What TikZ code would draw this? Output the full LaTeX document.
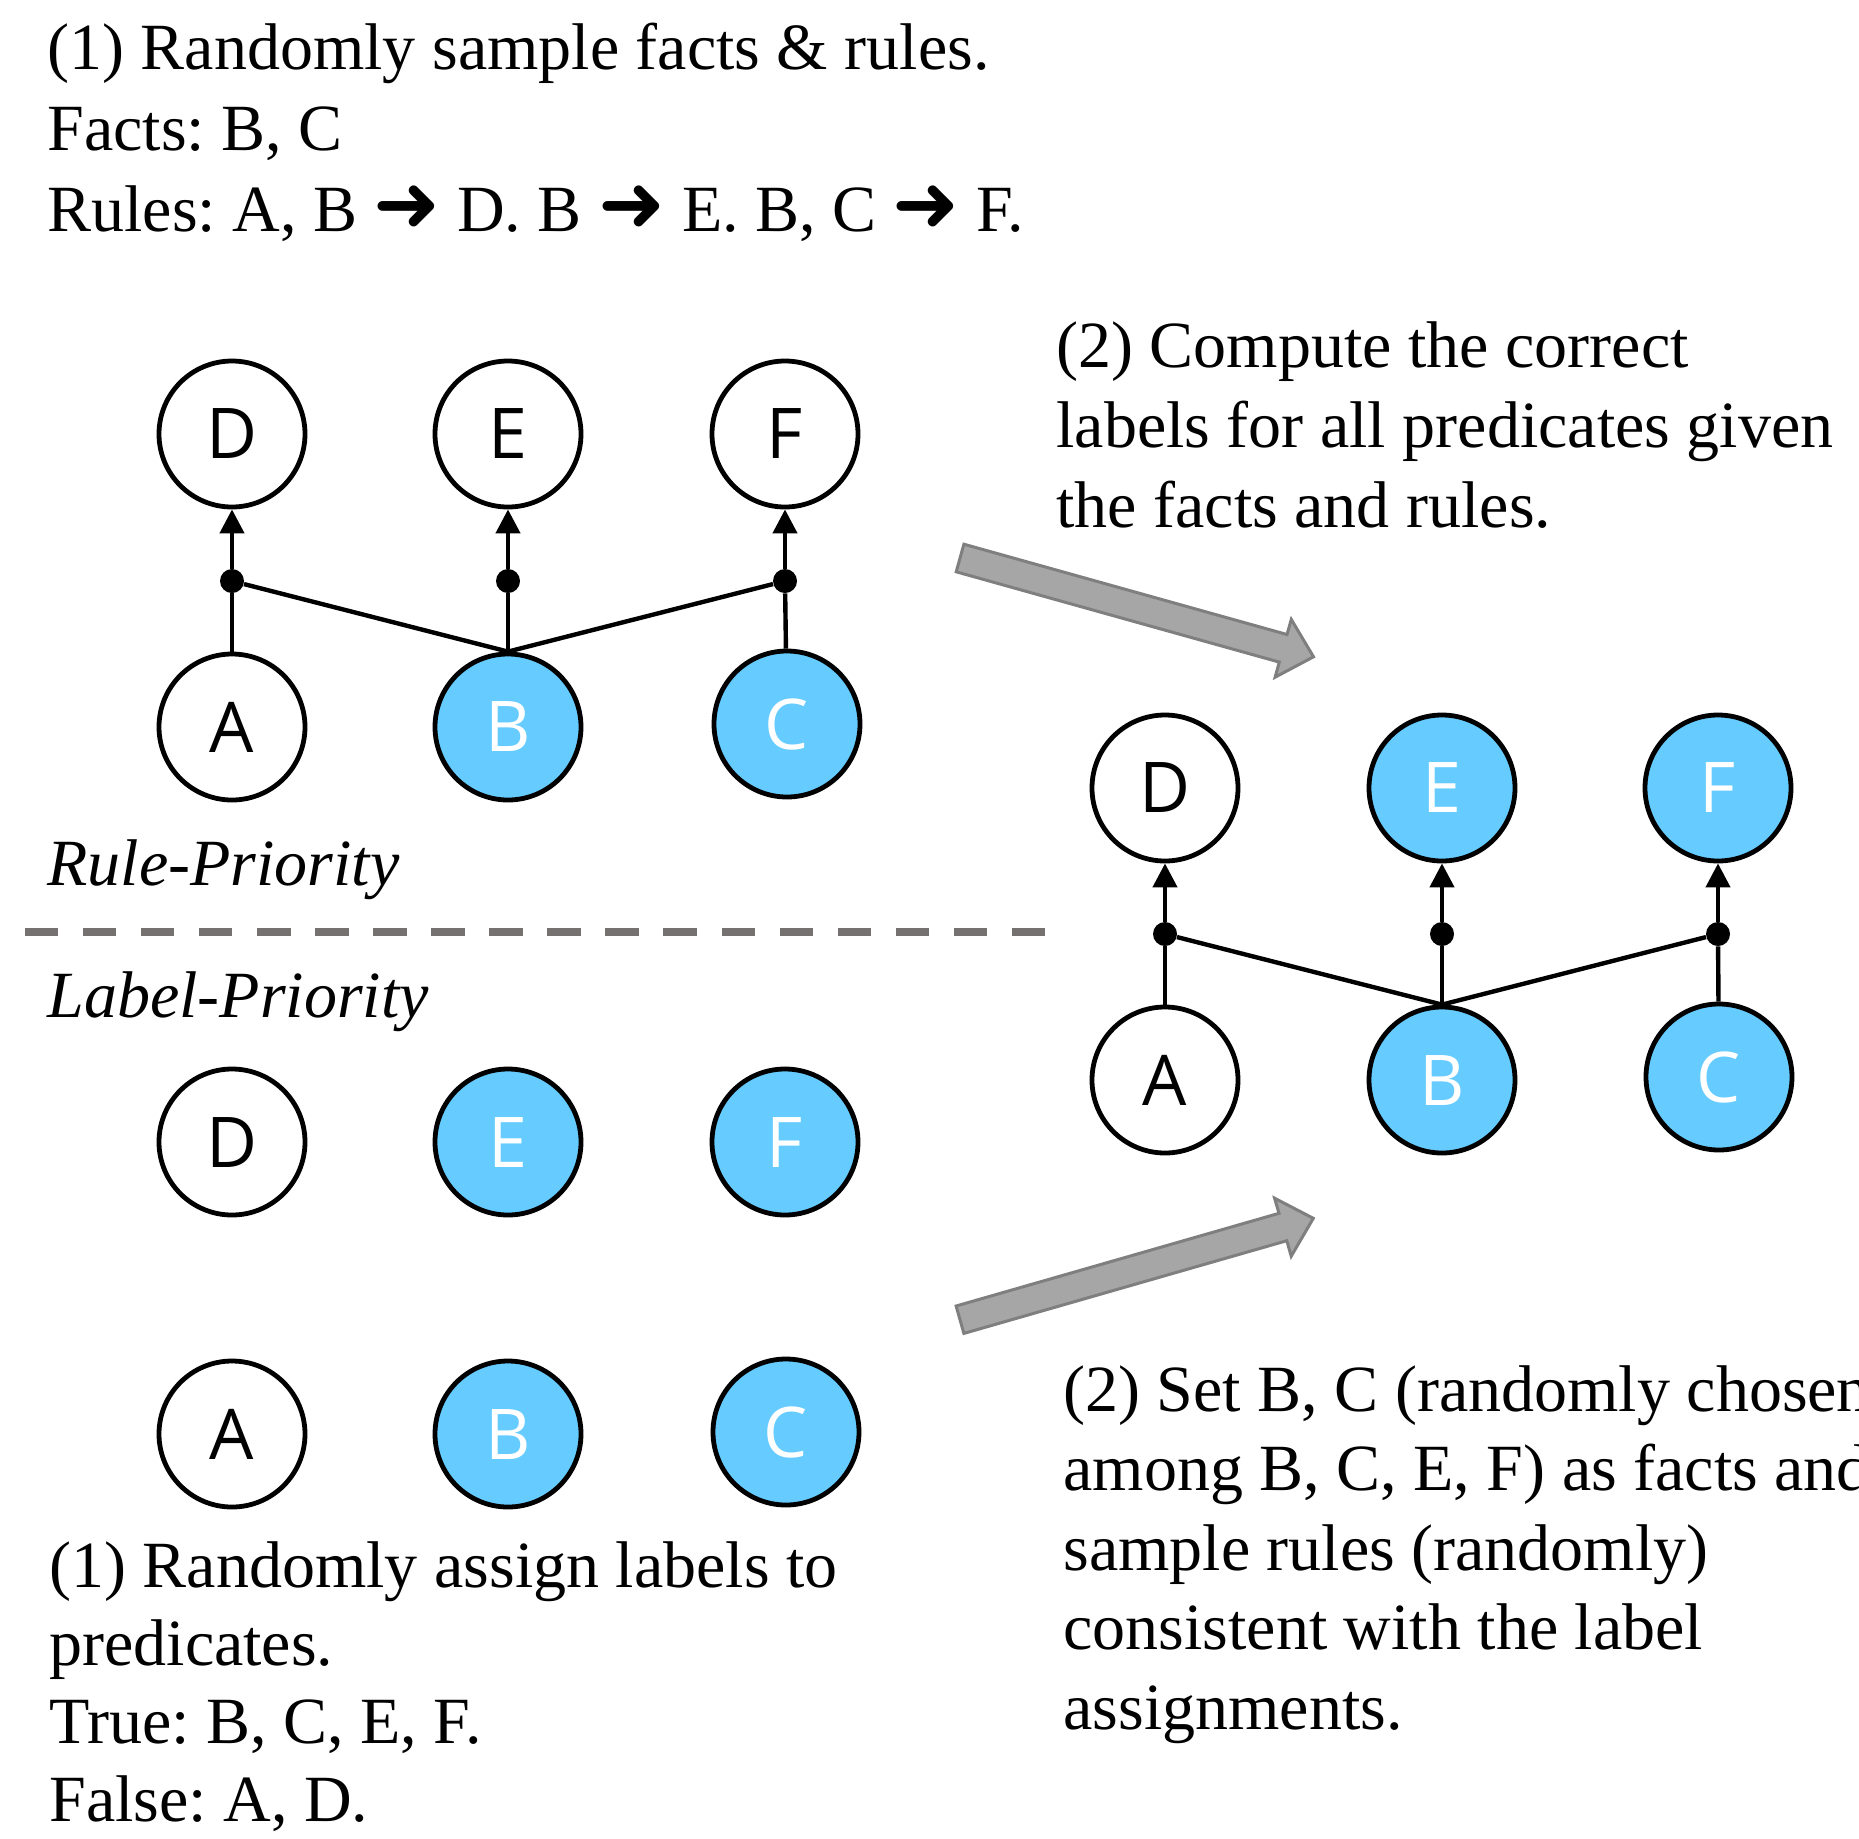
\documentclass[tikz,border=0pt]{standalone}
\usepackage{fontspec}
\setmainfont{Liberation Serif}
\newfontfamily\nodefont{Open Sans}
\newfontfamily\symfont{DejaVu Sans}
\usetikzlibrary{arrows.meta}
\definecolor{factblue}{RGB}{102,204,255}
\definecolor{arrowfill}{RGB}{166,166,166}
\definecolor{arrowedge}{RGB}{127,127,127}
\definecolor{dashgray}{RGB}{118,113,113}
\newcommand{\ruleto}{{\symfont\fontsize{40}{40}\selectfont ➜}}
\frenchspacing
\begin{document}
\begin{tikzpicture}[x=0.5pt,y=-0.5pt,
  pred/.style={circle,draw=black,line width=2.4pt,minimum size=73pt,inner sep=0pt,font=\nodefont\fontsize{35}{35}\selectfont},
  truepred/.style={pred,fill=factblue,text=white},
  falsepred/.style={pred,fill=white,text=black},
  junction/.style={circle,fill=black,inner sep=0pt,minimum size=12pt},
  link/.style={line width=2.2pt,draw=black},
  implies/.style={link,-{Triangle[length=12pt,width=12pt]}},
  body/.style={anchor=base west,align=left,inner sep=0pt},
  heading/.style={anchor=base west,inner sep=0pt,font=\itshape\fontsize{33}{40}\selectfont},
  bigarrow/.style={fill=arrowfill,draw=arrowedge,line width=1.5pt,line join=miter},
  divider/.style={draw=dashgray,line width=4pt,dash pattern=on 16.65pt off 12.37pt}
]
\useasboundingbox (0,0) rectangle (1859,1838);

% ---------- texts (anchored at the baseline of the last line) ----------
\node[body,font=\fontsize{33}{40.5}\selectfont] (t1) at (47,231)
  {(1) Randomly sample facts \& rules.\\Facts: B, C\\Rules: A, B \ruleto{} D. B \ruleto{} E. B, C \ruleto{} F.};
\node[body,font=\fontsize{33}{40}\selectfont] (t2) at (1056,527)
  {(2) Compute the correct\\labels for all predicates given\\the facts and rules.};
\node[heading] (rp) at (47,885) {Rule-Priority};
\node[heading] (lp) at (47,1017) {Label-Priority};
\node[body,font=\fontsize{33}{38.85}\selectfont] (t3) at (49,1821)
  {(1) Randomly assign labels to\\predicates.\\True: B, C, E, F.\\False: A, D.};
\node[body,font=\fontsize{33}{39.75}\selectfont] (t4) at (1063,1729)
  {(2) Set B, C (randomly chosen\\among B, C, E, F) as facts and\\sample rules (randomly)\\consistent with the label\\assignments.};

% ---------- divider ----------
\coordinate (divL) at (-33,932);
\coordinate (divR) at (1046,932);
\draw[divider] (divL) -- (divR);

% ---------- rule-priority graph ----------
\node[falsepred] (rD) at (232,434) {D};
\node[falsepred] (rE) at (508,434) {E};
\node[falsepred] (rF) at (785,434) {F};
\node[falsepred] (rA) at (232,727) {A};
\node[truepred]  (rB) at (508,727) {B};
\node[truepred]  (rC) at (787,724) {C};
\node[junction] (rj1) at (232,581) {};
\node[junction] (rj2) at (508,581) {};
\node[junction] (rj3) at (785,581) {};
\draw[link] (rA) -- (rj1);
\draw[link] (rB.north) -- (rj1);
\draw[link] (rB.north) -- (rj2);
\draw[link] (rB.north) -- (rj3);
\draw[link] (rC) -- (rj3);
\draw[implies] (rj1) -- (rD);
\draw[implies] (rj2) -- (rE);
\draw[implies] (rj3) -- (rF);

% ---------- result graph ----------
\node[falsepred] (sD) at (1165,788) {D};
\node[truepred]  (sE) at (1442,788) {E};
\node[truepred]  (sF) at (1718,788) {F};
\node[falsepred] (sA) at (1165,1080) {A};
\node[truepred]  (sB) at (1442,1080) {B};
\node[truepred]  (sC) at (1719,1077) {C};
\node[junction] (sj1) at (1165,934) {};
\node[junction] (sj2) at (1442,934) {};
\node[junction] (sj3) at (1718,934) {};
\draw[link] (sA) -- (sj1);
\draw[link] (sB.north) -- (sj1);
\draw[link] (sB.north) -- (sj2);
\draw[link] (sB.north) -- (sj3);
\draw[link] (sC) -- (sj3);
\draw[implies] (sj1) -- (sD);
\draw[implies] (sj2) -- (sE);
\draw[implies] (sj3) -- (sF);

% ---------- label-priority graph ----------
\node[falsepred] (lD) at (232,1142) {D};
\node[truepred]  (lE) at (508,1142) {E};
\node[truepred]  (lF) at (785,1142) {F};
\node[falsepred] (lA) at (232,1434) {A};
\node[truepred]  (lB) at (508,1434) {B};
\node[truepred]  (lC) at (786,1432) {C};

% ---------- big gray arrows ----------
\draw[bigarrow] (963.9,544.2) -- (1287.0,634.5) -- (1291.3,619.4) -- (1313.5,656.8)
  -- (1275.1,677.2) -- (1279.3,662.1) -- (956.2,571.8) -- cycle;
\draw[bigarrow] (956.1,1306.0) -- (1279.0,1213.3) -- (1274.6,1198.2) -- (1313.3,1218.3)
  -- (1291.2,1256.2) -- (1286.8,1240.7) -- (963.9,1333.4) -- cycle;
\end{tikzpicture}
\end{document}
